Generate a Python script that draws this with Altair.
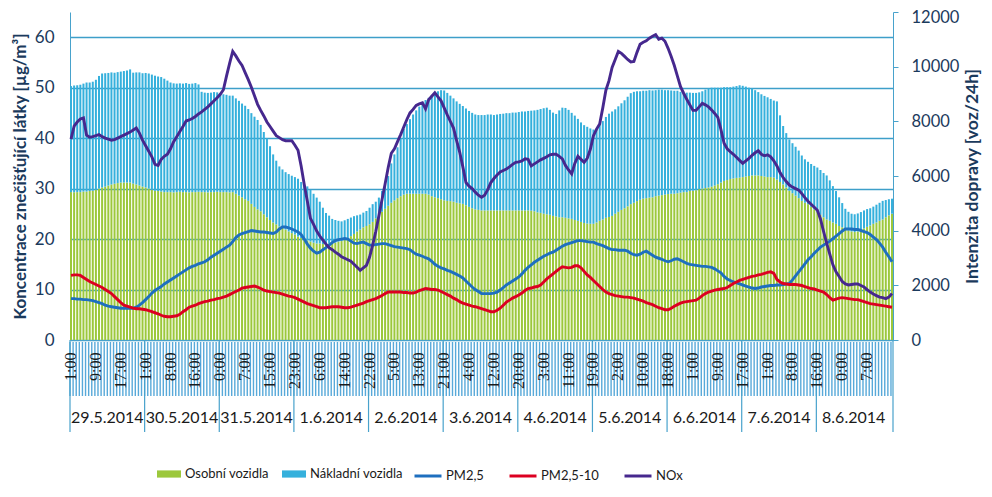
import altair as alt
import pandas as pd

N = 265
hodiny = list(range(N))

hour_labels = ['1:00', '9:00', '17:00', '1:00', '8:00', '16:00', '0:00', '7:00', '15:00', '23:00',
               '6:00', '14:00', '22:00', '5:00', '13:00', '21:00', '4:00', '12:00', '20:00', '3:00',
               '11:00', '19:00', '2:00', '10:00', '18:00', '1:00', '9:00', '17:00', '1:00', '8:00',
               '16:00', '0:00', '7:00']
day_labels = ['29.5.2014', '30.5.2014', '31.5.2014', '1.6.2014', '2.6.2014', '3.6.2014',
              '4.6.2014', '5.6.2014', '6.6.2014', '7.6.2014', '8.6.2014']
series_traffic = ['Osobní vozidla', 'Nákladní vozidla']
series_conc = ['PM2,5', 'PM2,5-10', 'NOx']

osobni = [
    5410, 5410, 5410, 5410, 5430, 5430, 5450, 5460, 5500, 5540,
    5580, 5610, 5650, 5690, 5720, 5740, 5760, 5760, 5760, 5760,
    5720, 5690, 5650, 5610, 5580, 5540, 5500, 5460, 5450, 5430,
    5410, 5410, 5410, 5400, 5410, 5420, 5410, 5410, 5400, 5410,
    5410, 5420, 5410, 5410, 5400, 5410, 5410, 5420, 5410, 5410,
    5410, 5400, 5410, 5350, 5280, 5220, 5150, 5090, 4980, 4870,
    4780, 4710, 4600, 4490, 4390, 4300, 4230, 4150, 4100, 4040,
    3970, 3910, 3860, 3780, 3730, 3670, 3640, 3600, 3560, 3530,
    3530, 3510, 3510, 3530, 3540, 3560, 3600, 3620, 3660, 3730,
    3800, 3880, 3970, 4040, 4120, 4170, 4230, 4320, 4450, 4580,
    4690, 4800, 4910, 5020, 5110, 5190, 5260, 5320, 5350, 5350,
    5350, 5350, 5350, 5350, 5350, 5320, 5260, 5220, 5190, 5150,
    5110, 5090, 5080, 5060, 5020, 5000, 4980, 4930, 4870, 4820,
    4780, 4760, 4740, 4740, 4740, 4740, 4740, 4740, 4740, 4740,
    4740, 4740, 4740, 4740, 4740, 4740, 4740, 4740, 4730, 4710,
    4670, 4650, 4620, 4600, 4580, 4540, 4520, 4490, 4490, 4470,
    4450, 4430, 4390, 4360, 4320, 4280, 4260, 4250, 4250, 4300,
    4360, 4410, 4470, 4500, 4540, 4620, 4690, 4760, 4820, 4890,
    4970, 5020, 5080, 5130, 5170, 5190, 5210, 5220, 5260, 5280,
    5300, 5320, 5340, 5350, 5350, 5370, 5390, 5410, 5410, 5450,
    5460, 5480, 5520, 5540, 5560, 5580, 5610, 5650, 5700, 5760,
    5820, 5850, 5890, 5910, 5930, 5940, 5960, 5980, 6000, 6020,
    6020, 6020, 6000, 5980, 5960, 5960, 5940, 5870, 5780, 5690,
    5580, 5460, 5370, 5280, 5190, 5090, 5020, 4970, 4870, 4780,
    4690, 4580, 4490, 4410, 4360, 4300, 4250, 4170, 4120, 4060,
    4010, 3970, 3950, 3970, 4020, 4080, 4140, 4190, 4250, 4300,
    4360, 4410, 4490, 4560, 4620]

nakladni = [
    3880, 3900, 3910, 3930, 3950, 3990, 3970, 3990, 4020, 4120,
    4170, 4150, 4120, 4100, 4060, 4060, 4060, 4080, 4100, 4140,
    4060, 4100, 4140, 4150, 4190, 4210, 4210, 4210, 4190, 4190,
    4150, 4080, 4010, 3990, 3970, 3970, 3970, 3990, 3970, 3970,
    3990, 3930, 3670, 3640, 3640, 3640, 3660, 3640, 3600, 3580,
    3560, 3540, 3530, 3490, 3470, 3430, 3420, 3360, 3320, 3300,
    3270, 3160, 3010, 2900, 2700, 2490, 2330, 2200, 2140, 2100,
    2100, 2100, 2100, 2120, 2050, 2010, 1980, 1900, 1790, 1680,
    1530, 1330, 1140, 1020, 890, 830, 760, 720, 720, 700,
    680, 650, 590, 550, 540, 550, 610, 650, 610, 630,
    760, 850, 1090, 1440, 1680, 1860, 2120, 2400, 2550, 2730,
    2900, 3050, 3190, 3320, 3430, 3540, 3690, 3800, 3910, 3990,
    4020, 3950, 3860, 3780, 3710, 3640, 3580, 3540, 3510, 3490,
    3470, 3470, 3490, 3490, 3510, 3510, 3490, 3510, 3530, 3540,
    3560, 3560, 3580, 3580, 3600, 3620, 3620, 3640, 3660, 3690,
    3750, 3800, 3860, 3900, 3840, 3780, 3750, 3910, 4010, 4020,
    3970, 3880, 3820, 3730, 3640, 3580, 3540, 3490, 3450, 3430,
    3530, 3600, 3690, 3780, 3820, 3820, 3860, 3900, 3950, 4010,
    4060, 4060, 4020, 3970, 3950, 3930, 3930, 3910, 3880, 3880,
    3860, 3820, 3800, 3780, 3770, 3750, 3690, 3640, 3640, 3600,
    3580, 3560, 3540, 3560, 3600, 3620, 3620, 3580, 3530, 3470,
    3430, 3400, 3360, 3360, 3360, 3380, 3340, 3290, 3230, 3180,
    3120, 3050, 2990, 2950, 2920, 2860, 2820, 2860, 2440, 2140,
    1990, 1880, 1830, 1790, 1740, 1660, 1590, 1550, 1570, 1590,
    1620, 1640, 1620, 1610, 1480, 1330, 1200, 1050, 890, 740,
    680, 650, 650, 660, 660, 660, 650, 630, 630, 650,
    660, 680, 630, 590, 550]

pm25 = [
    8.2, 8.2, 8.1, 8.1, 8.0, 8.0, 7.9, 7.8, 7.6, 7.4,
    7.2, 6.9, 6.7, 6.6, 6.5, 6.4, 6.3, 6.3, 6.3, 6.3,
    6.3, 6.5, 6.9, 7.4, 8.0, 8.6, 9.3, 9.8, 10.2, 10.6,
    11.1, 11.5, 11.9, 12.3, 12.7, 13.1, 13.5, 13.9, 14.3, 14.6,
    14.8, 15.1, 15.3, 15.5, 15.9, 16.4, 16.8, 17.2, 17.6, 18.0,
    18.4, 18.8, 19.5, 20.3, 20.8, 21.1, 21.3, 21.5, 21.7, 21.6,
    21.5, 21.4, 21.4, 21.3, 21.2, 21.1, 21.4, 22.0, 22.4, 22.4,
    22.2, 22.0, 21.7, 21.4, 20.9, 20.0, 19.0, 18.2, 17.6, 17.2,
    17.4, 17.9, 18.3, 18.8, 19.3, 19.7, 19.9, 20.0, 20.1, 20.0,
    19.6, 19.2, 19.1, 19.3, 19.4, 19.1, 18.8, 18.8, 18.9, 19.0,
    19.1, 19.1, 18.9, 18.7, 18.5, 18.4, 18.3, 18.2, 18.1, 17.9,
    17.4, 17.0, 16.8, 16.6, 16.3, 16.1, 15.6, 15.0, 14.6, 14.3,
    14.1, 13.8, 13.6, 13.3, 13.0, 12.7, 12.3, 11.7, 11.1, 10.5,
    10.0, 9.6, 9.2, 9.2, 9.2, 9.2, 9.3, 9.5, 9.9, 10.4,
    10.9, 11.3, 11.7, 12.1, 12.5, 13.1, 13.8, 14.4, 14.9, 15.4,
    15.8, 16.2, 16.6, 16.9, 17.2, 17.4, 17.8, 18.2, 18.6, 18.9,
    19.1, 19.3, 19.5, 19.7, 19.7, 19.6, 19.5, 19.4, 19.4, 19.1,
    18.9, 18.7, 18.4, 18.1, 17.9, 17.9, 17.8, 17.8, 17.8, 17.6,
    17.2, 16.9, 16.8, 17.0, 17.4, 17.6, 17.2, 16.8, 16.4, 16.2,
    16.0, 15.7, 15.5, 15.7, 16.0, 16.1, 15.8, 15.5, 15.2, 15.0,
    14.9, 14.8, 14.7, 14.6, 14.6, 14.5, 14.4, 14.1, 13.7, 13.3,
    12.6, 12.1, 11.8, 11.5, 11.3, 11.1, 10.9, 10.7, 10.5, 10.3,
    10.2, 10.3, 10.5, 10.6, 10.7, 10.8, 10.8, 10.9, 10.9, 11.0,
    11.1, 11.2, 11.9, 12.7, 13.5, 14.3, 15.1, 15.9, 16.5, 17.2,
    17.8, 18.4, 18.8, 19.2, 19.6, 20.1, 20.6, 21.1, 21.6, 22.0,
    22.0, 22.0, 21.9, 21.9, 21.7, 21.5, 21.3, 20.9, 20.4, 19.9,
    19.2, 18.4, 17.4, 16.5, 15.5]

pm2510 = [
    12.8, 12.9, 12.9, 12.8, 12.4, 12.0, 11.6, 11.3, 11.0, 10.7,
    10.4, 10.0, 9.6, 9.2, 8.6, 8.0, 7.4, 6.9, 6.7, 6.5,
    6.3, 6.2, 6.2, 6.1, 6.0, 5.8, 5.6, 5.4, 5.2, 4.9,
    4.7, 4.6, 4.6, 4.7, 4.8, 5.1, 5.6, 6.0, 6.5, 6.7,
    6.9, 7.2, 7.4, 7.6, 7.7, 7.9, 8.0, 8.2, 8.3, 8.5,
    8.7, 9.0, 9.3, 9.6, 9.9, 10.3, 10.4, 10.5, 10.6, 10.7,
    10.5, 10.2, 9.9, 9.7, 9.6, 9.5, 9.4, 9.3, 9.1, 8.9,
    8.7, 8.6, 8.4, 8.1, 7.8, 7.5, 7.2, 7.0, 6.8, 6.6,
    6.4, 6.4, 6.4, 6.5, 6.6, 6.6, 6.6, 6.5, 6.4, 6.4,
    6.5, 6.7, 6.9, 7.1, 7.3, 7.6, 7.8, 8.0, 8.2, 8.5,
    8.8, 9.2, 9.5, 9.5, 9.5, 9.5, 9.5, 9.4, 9.4, 9.3,
    9.3, 9.5, 9.8, 10.0, 10.2, 10.1, 10.0, 10.0, 9.9, 9.6,
    9.3, 9.0, 8.7, 8.3, 8.0, 7.6, 7.3, 7.1, 6.9, 6.7,
    6.6, 6.4, 6.2, 6.0, 5.8, 5.6, 5.6, 5.9, 6.3, 6.9,
    7.5, 7.9, 8.3, 8.6, 8.9, 9.3, 9.8, 10.2, 10.3, 10.5,
    10.6, 10.9, 11.5, 12.1, 12.6, 13.1, 13.6, 14.1, 14.5, 14.4,
    14.3, 14.4, 14.7, 14.7, 14.3, 13.6, 12.9, 12.4, 11.8, 11.2,
    10.6, 10.0, 9.5, 9.2, 9.0, 8.8, 8.7, 8.6, 8.5, 8.5,
    8.4, 8.3, 8.1, 7.9, 7.7, 7.4, 7.2, 7.0, 6.7, 6.4,
    6.2, 6.0, 6.0, 6.3, 6.7, 7.0, 7.3, 7.5, 7.6, 7.7,
    7.8, 7.9, 8.3, 8.8, 9.2, 9.5, 9.7, 9.9, 10.0, 10.1,
    10.2, 10.4, 10.8, 11.2, 11.5, 11.8, 12.0, 12.2, 12.4, 12.6,
    12.7, 12.9, 13.0, 13.2, 13.4, 13.5, 13.2, 12.0, 11.5, 11.2,
    11.1, 11.0, 11.0, 11.0, 10.9, 10.8, 10.6, 10.4, 10.2, 10.1,
    9.9, 9.7, 9.5, 9.0, 8.4, 7.9, 8.1, 8.3, 8.4, 8.3,
    8.2, 8.1, 8.0, 8.0, 7.8, 7.6, 7.4, 7.2, 7.1, 7.0,
    6.9, 6.8, 6.7, 6.6, 6.5]

nox = [
    39.8, 42.4, 43.2, 43.8, 44.0, 40.6, 40.2, 40.3, 40.5, 40.7,
    40.3, 40.0, 39.8, 39.6, 39.7, 40.0, 40.3, 40.6, 40.9, 41.2,
    41.6, 42.0, 41.0, 39.6, 38.5, 37.4, 36.3, 34.8, 34.6, 35.8,
    36.4, 36.8, 37.9, 39.3, 40.3, 41.3, 42.3, 43.4, 43.6, 43.9,
    44.3, 44.8, 45.2, 45.7, 46.2, 46.8, 47.4, 48.0, 48.7, 49.6,
    52.3, 54.8, 57.2, 56.3, 55.3, 54.4, 53.0, 51.6, 50.1, 48.4,
    46.7, 45.5, 44.4, 43.2, 42.3, 41.4, 40.5, 40.1, 39.7, 39.5,
    39.5, 39.5, 38.6, 37.6, 34.5, 30.8, 27.5, 24.1, 22.9, 21.6,
    20.6, 19.8, 19.0, 18.3, 17.9, 17.4, 17.0, 16.5, 16.2, 15.9,
    15.6, 15.0, 14.4, 13.8, 14.3, 14.8, 16.4, 18.8, 21.5, 24.6,
    27.8, 30.9, 34.2, 37.0, 37.9, 39.3, 40.7, 42.2, 43.7, 45.0,
    45.7, 46.5, 46.8, 47.0, 45.8, 47.6, 48.3, 49.0, 48.2, 47.4,
    46.0, 44.6, 43.3, 42.0, 39.5, 37.2, 34.3, 31.2, 30.5, 30.0,
    29.3, 28.7, 28.3, 28.7, 29.8, 31.2, 32.0, 32.7, 33.3, 33.6,
    33.9, 34.3, 34.8, 35.2, 35.3, 35.5, 35.9, 35.8, 34.5, 34.9,
    35.3, 35.7, 36.0, 36.3, 36.7, 36.8, 36.8, 36.4, 35.9, 34.6,
    33.7, 32.9, 35.0, 36.4, 35.8, 35.2, 36.0, 37.8, 40.5, 41.8,
    42.8, 46.0, 49.5, 51.4, 54.0, 55.6, 57.2, 56.8, 56.2, 55.6,
    55.1, 55.2, 57.0, 58.6, 59.0, 59.3, 59.8, 60.2, 60.5, 59.6,
    59.8, 59.2, 57.8, 56.2, 54.4, 52.3, 50.2, 48.9, 47.7, 46.6,
    45.5, 45.5, 46.2, 46.9, 46.6, 46.2, 45.6, 44.9, 44.1, 41.7,
    39.0, 37.9, 37.3, 36.8, 36.2, 35.6, 35.0, 35.5, 36.0, 36.6,
    37.1, 37.5, 36.8, 36.5, 36.7, 36.3, 35.5, 34.5, 33.2, 32.2,
    31.4, 30.7, 30.3, 30.0, 29.7, 29.0, 28.2, 27.5, 26.9, 26.3,
    25.7, 24.0, 21.5, 19.2, 17.0, 14.9, 13.5, 12.6, 11.6, 11.1,
    10.9, 11.0, 11.1, 11.1, 10.8, 10.5, 10.0, 9.5, 9.1, 8.8,
    8.5, 8.4, 8.2, 8.5, 9.2]

# ---- tables built from the lists ----
traffic = pd.DataFrame({
    'i': hodiny * 2,
    'typ': [series_traffic[0]] * N + [series_traffic[1]] * N,
    'ord': [0] * N + [1] * N,
    'voz': osobni + nakladni,
})
conc = pd.DataFrame({
    'i': hodiny * 3,
    'latka': [series_conc[0]] * N + [series_conc[1]] * N + [series_conc[2]] * N,
    'konc': pm25 + pm2510 + nox,
})
days = pd.DataFrame({'pos': [24 * k + 12 for k in range(len(day_labels))], 'den': day_labels})
seps = pd.DataFrame({'pos': [24 * k for k in range(len(day_labels))]})
sep_end = pd.DataFrame({'pos': [N - 1]})
ticks_df = pd.DataFrame({'i': hodiny})

W, H = 823, 328
BLUE = '#48a2cc'
NAVY = '#1b3a5c'

label_array = '[' + ','.join("'" + h + "'" for h in hour_labels) + ']'
xscale = alt.Scale(domain=hodiny, paddingInner=0.35, paddingOuter=0)
xaxis = alt.Axis(values=list(range(0, 8 * len(hour_labels), 8)),
                 labelExpr=label_array + '[datum.value / 8]',
                 labelAngle=-90, labelFont='Liberation Serif', labelFontSize=16,
                 labelColor='#1a1a1a', labelPadding=12, ticks=False,
                 domainColor=BLUE, domainWidth=1, title=None, grid=False,
                 labelOverlap=False, labelBound=False, zindex=1)

bars = alt.Chart(traffic).mark_bar().encode(
    x=alt.X('i:O', scale=xscale, axis=xaxis),
    y=alt.Y('voz:Q', stack='zero', scale=alt.Scale(domain=[0, 12000], nice=False),
            axis=alt.Axis(orient='right', values=list(range(0, 12001, 2000)), format='d',
                          grid=False, ticks=True, tickSize=5, tickColor=BLUE, domainColor=BLUE,
                          labelFont='Lato', labelFontSize=16.5, labelColor=NAVY, labelPadding=13,
                          labelOffset={'condition': {'test': 'datum.value >= 12000', 'value': 5},
                                       'value': 0},
                          title='Intenzita dopravy [voz/24h]', titleAngle=270,
                          titleFont='Lato', titleFontSize=17.5, titleFontWeight='bold',
                          titleColor=NAVY, titlePadding=23)),
    color=alt.Color('typ:N', scale=alt.Scale(domain=series_traffic, range=['#9cc83c', '#35b0dc']),
                    legend=alt.Legend(orient='none', legendX=87, legendY=450, direction='horizontal',
                                      title=None, symbolType='M-1,-0.3H1V0.3H-1Z', symbolSize=576,
                                      symbolStrokeWidth=0, labelFont='Lato', labelFontSize=13,
                                      labelColor='#1a1a1a', labelOffset=4, columnPadding=13,
                                      padding=0)),
    order=alt.Order('ord:Q', sort='ascending'),
)

lines = alt.Chart(conc).mark_line(strokeWidth=2.9).encode(
    x=alt.X('i:O', scale=xscale, axis=xaxis),
    y=alt.Y('konc:Q', scale=alt.Scale(domain=[0, 65], nice=False),
            axis=alt.Axis(orient='left', values=list(range(0, 61, 10)), grid=True,
                          gridColor='#3d9fc9', gridWidth=1.4, ticks=False, domainColor=BLUE,
                          labelFont='Lato', labelFontSize=17, labelColor=NAVY, labelPadding=16,
                          title='Koncentrace znečišťující látky [µg/m³]',
                          titleFont='Lato', titleFontSize=17, titleFontWeight='bold',
                          titleColor=NAVY, titlePadding=5)),
    color=alt.Color('latka:N', scale=alt.Scale(domain=series_conc,
                                               range=['#1e6fbf', '#dc0021', '#46288e']),
                    legend=alt.Legend(orient='none', legendX=343, legendY=449, direction='horizontal',
                                      title=None, symbolType='stroke', symbolSize=729,
                                      symbolStrokeWidth=3, labelFont='Lato', labelFontSize=13,
                                      labelColor='#1a1a1a', labelOffset=3, columnPadding=19,
                                      padding=0)),
)

stripes = alt.Chart(ticks_df).mark_rule(color='#58a9d9', strokeWidth=1.4).encode(
    x=alt.X('i:O', scale=xscale, axis=xaxis, bandPosition=0),
    y=alt.value(H + 2), y2=alt.value(H + 56),
)
separators = alt.Chart(seps).mark_rule(color=BLUE, strokeWidth=1.2).encode(
    x=alt.X('pos:O', scale=xscale, axis=xaxis, bandPosition=0),
    y=alt.value(H), y2=alt.value(H + 92),
)
separator_end = alt.Chart(sep_end).mark_rule(color=BLUE, strokeWidth=1.2).encode(
    x=alt.X('pos:O', scale=xscale, axis=xaxis, bandPosition=1),
    y=alt.value(H), y2=alt.value(H + 92),
)
day_text = alt.Chart(days).mark_text(font='Lato', fontSize=16, color='#1a1a1a',
                                     baseline='middle', align='center').encode(
    x=alt.X('pos:O', scale=xscale, axis=xaxis, bandPosition=0),
    y=alt.value(H + 78),
    text='den:N',
)

chart = alt.layer(bars, lines, stripes, separators, separator_end, day_text).resolve_scale(
    y='independent', color='independent'
).properties(
    width=W, height=H,
    autosize=alt.AutoSizeParams(type='none'),
    padding={'left': 62, 'top': 4, 'right': 91, 'bottom': 149},
).configure_view(stroke=None)

chart.save('out.html', embed_options={'renderer': 'svg', 'actions': False})
